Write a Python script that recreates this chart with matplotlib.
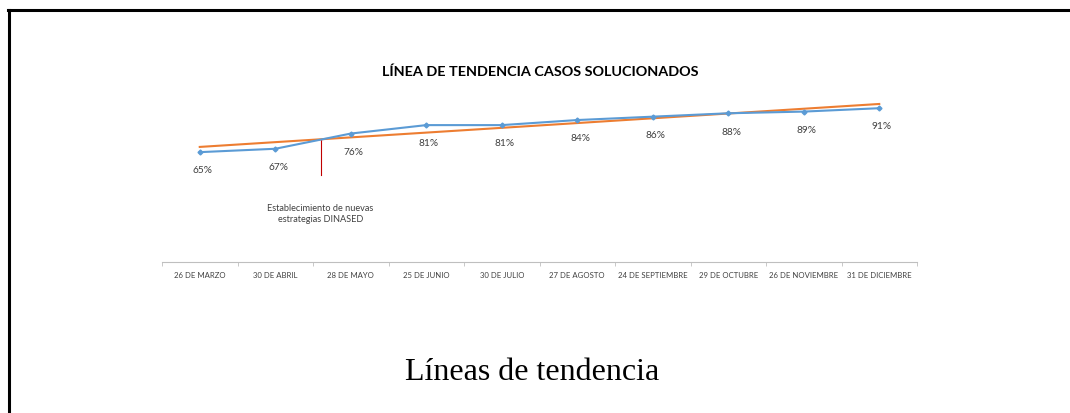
import numpy as np
import matplotlib
matplotlib.use('Agg')
import matplotlib.pyplot as plt
from matplotlib.lines import Line2D

meses = ['26 DE MARZO', '30 DE ABRIL', '28 DE MAYO', '25 DE JUNIO', '30 DE JULIO',
         '27 DE AGOSTO', '24 DE SEPTIEMBRE', '29 DE OCTUBRE', '26 DE NOVIEMBRE', '31 DE DICIEMBRE']
porcentaje = [65, 67, 76, 81, 81, 84, 86, 88, 89, 91]
nota = 'Establecimiento de nuevas\nestrategias DINASED'

plt.rcParams['font.family'] = ['Lato', 'DejaVu Sans']

W, H = 1070, 413
fig = plt.figure(figsize=(W / 100, H / 100), dpi=100)
ax = fig.add_axes([162 / W, 1 - 262 / H, 755 / W, 169 / H])

x = np.arange(len(meses))
ax.plot(x, porcentaje, color='#5b9bd5', lw=1.5, marker='D', ms=2.5, zorder=3)

# linea de tendencia (ajuste lineal)
m, b = np.polyfit(x, porcentaje, 1)
ax.plot(x, m * x + b, color='#ed7d31', lw=1.5, zorder=2)

for xi, v in zip(x, porcentaje):
    ax.annotate('%d%%' % v, (xi, v), xytext=(2, -13.5), textcoords='offset points',
                ha='center', va='center', fontsize=7.3, color='#404040')

# cruce entre serie y tendencia -> marca del cambio de estrategia
xc = 1.6
yc = m * xc + b
ax.plot([xc, xc], [yc, 51.5], color='#c00000', lw=0.8, zorder=1)
ax.text(xc, 28.5, nota, ha='center', va='center', fontsize=6.6,
        color='#404040', linespacing=1.35)

ax.set_xlim(-0.5, 9.5)
ax.set_ylim(0, 100)
ax.set_xticks(x)
ax.set_xticklabels(meses, fontsize=5.6, color='#404040')
ax.set_xticks(np.arange(-0.5, 10, 1), minor=True)
ax.tick_params(axis='x', which='major', length=0, pad=7)
ax.tick_params(axis='x', which='minor', length=3, color='#bfbfbf')
ax.set_yticks([])
for s in ['top', 'right', 'left']:
    ax.spines[s].set_visible(False)
ax.spines['bottom'].set_color('#bfbfbf')
ax.patch.set_visible(False)

fig.text(540 / W, 1 - 72 / H, 'LÍNEA DE TENDENCIA CASOS SOLUCIONADOS',
         ha='center', va='center', fontsize=10.4, fontweight='bold', color='black')
fig.text(532 / W, 1 - 372 / H, 'Líneas de tendencia', ha='center', va='center',
         fontsize=23, family='Liberation Serif', color='black')

# marco
fig.add_artist(Line2D([9 / W, 9 / W], [0, 1 - 10 / H], color='black', lw=2.2))
fig.add_artist(Line2D([8 / W, 1], [1 - 10 / H, 1 - 10 / H], color='black', lw=2.2))

fig.savefig('out.png', dpi=100, facecolor='white')
